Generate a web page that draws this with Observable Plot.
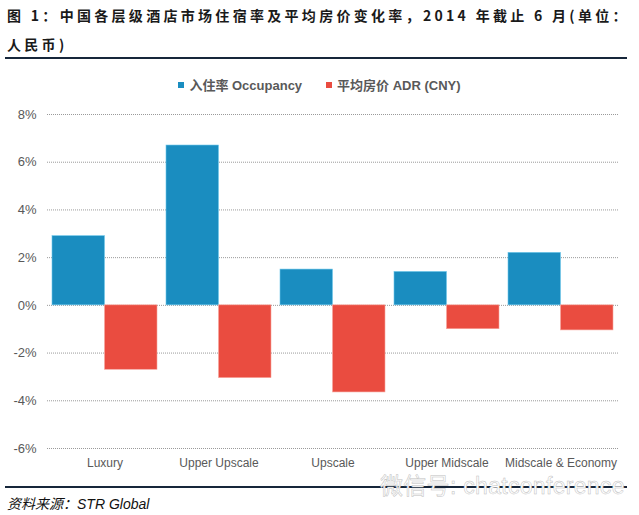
<!DOCTYPE html>
<html lang="zh">
<head>
<meta charset="UTF-8">
<script src="https://cdn.jsdelivr.net/npm/d3@7"></script>
<script src="https://cdn.jsdelivr.net/npm/@observablehq/plot@0.6"></script>
<style>
  body { margin: 0; background: #fff; }
  #page { position: relative; width: 639px; height: 515px; overflow: hidden; font-family: "Liberation Sans", "Noto Sans CJK SC", sans-serif; }
  #title { position: absolute; left: 7px; top: 1px; width: 636px; font: bold 14px "Noto Sans CJK SC", sans-serif; letter-spacing: 3.3px; line-height: 29px; color: #1a1a1a; }
  .rule { position: absolute; left: 5px; width: 622px; height: 2px; background: #16263a; }
  #legend { position: absolute; left: 0; top: 75px; width: 639px; display: flex; justify-content: center; gap: 24px; font: bold 13px "Liberation Sans", "Noto Sans CJK SC", sans-serif; color: #595959; }
  #legend span.sw { display: inline-block; width: 6px; height: 6px; margin-right: 5px; vertical-align: 2px; }
  #plot { position: absolute; left: 0; top: 95px; }
  #source { position: absolute; left: 7px; top: 493px; font: italic 14px "Liberation Sans", "Noto Sans CJK SC", sans-serif; color: #111; }
  #mark { position: absolute; left: 380px; top: 467px; font: 23px "Liberation Sans", "Noto Sans CJK SC", sans-serif; color: #fff; -webkit-text-stroke: 0.5px #c0c0c0; letter-spacing: 0.3px; }
</style>
</head>
<body>
<div id="page">
  <div id="title">图 1：中国各层级酒店市场住宿率及平均房价变化率，2014 年截止 6 月(单位：<br>人民币)</div>
  <div class="rule" style="top:57px"></div>
  <div id="legend"></div>
  <div id="plot"></div>
  <div class="rule" style="top:486px"></div>
  <div id="mark">微信号: chatconference</div>
  <div id="source">资料来源：STR Global</div>
</div>
<script>
// hotel tiers, change rates in %
const categories = ["Luxury", "Upper Upscale", "Upscale", "Upper Midscale", "Midscale & Economy"];
const occupancy = [2.9, 6.7, 1.5, 1.4, 2.2];
const adr = [-2.7, -3.05, -3.65, -1.0, -1.05];
const seriesNames = ["入住率 Occupancy", "平均房价 ADR (CNY)"];
const seriesColors = ["#1a8dc0", "#ea4c40"];
const yTicks = [8, 6, 4, 2, 0, -2, -4, -6];

const occRows = categories.map((c, i) => ({category: c, value: occupancy[i]}));
const adrRows = categories.map((c, i) => ({category: c, value: adr[i]}));

// legend
const legend = document.getElementById("legend");
seriesNames.forEach((name, i) => {
  const item = document.createElement("div");
  item.innerHTML = `<span class="sw" style="background:${seriesColors[i]}"></span>${name}`;
  legend.append(item);
});

const W = 639, ML = 47, MR = 21;
const padIn = 0.08, padOut = 0.04;
const xs = d3.scaleBand().domain(categories).range([ML, W - MR]).paddingInner(padIn).paddingOuter(padOut);
const half = xs.bandwidth() / 2;

const chart = Plot.plot({
  width: W,
  height: 385,
  marginLeft: ML,
  marginRight: MR,
  marginTop: 19,
  marginBottom: 32,
  style: {fontFamily: "Liberation Sans, sans-serif", background: "transparent"},
  x: {domain: categories, paddingInner: padIn, paddingOuter: padOut},
  y: {domain: [-6, 8]},
  marks: [
    Plot.ruleY(yTicks, {stroke: "#9a9a9a", strokeWidth: 1, strokeDasharray: "1 1"}),
    Plot.barY(occRows, {x: "category", y: "value", fill: seriesColors[0], insetRight: half, stroke: "#6cc6ea", strokeWidth: 0.6}),
    Plot.barY(adrRows, {x: "category", y: "value", fill: seriesColors[1], insetLeft: half, stroke: "#f7a39b", strokeWidth: 0.6}),
    Plot.axisY(yTicks, {tickSize: 0, tickPadding: 11, tickFormat: d => d + "%", fontSize: 13, fill: "#595959", label: null}),
    Plot.axisX({tickSize: 0, tickPadding: 10, fontSize: 12, fill: "#595959", label: null})
  ]
});
document.getElementById("plot").append(chart);
</script>
</body>
</html>
